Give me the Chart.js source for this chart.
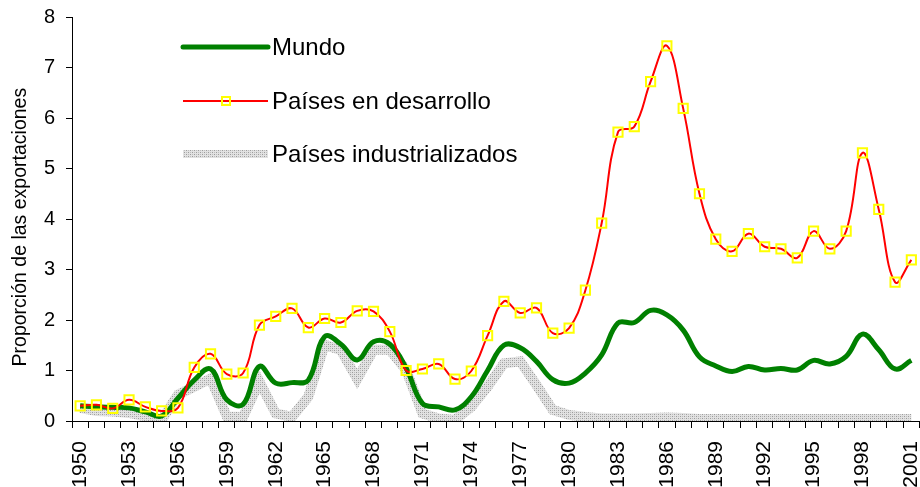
<!DOCTYPE html>
<html>
<head>
<meta charset="utf-8">
<script src="https://cdn.jsdelivr.net/npm/chart.js@4.4.0/dist/chart.umd.min.js"></script>
<style>
  html, body { margin: 0; padding: 0; background: #fff; overflow: hidden; }
  #wrap { width: 928px; height: 487px; }
</style>
</head>
<body>
<div id="wrap"><canvas id="myChart"></canvas></div>
<script>
years = [
  "1950","1951","1952","1953","1954","1955","1956","1957","1958","1959",
  "1960","1961","1962","1963","1964","1965","1966","1967","1968","1969",
  "1970","1971","1972","1973","1974","1975","1976","1977","1978","1979",
  "1980","1981","1982","1983","1984","1985","1986","1987","1988","1989",
  "1990","1991","1992","1993","1994","1995","1996","1997","1998","1999",
  "2000","2001"
]

mundo = [
  0.30, 0.28, 0.27, 0.26, 0.18, 0.10, 0.45, 0.81, 1.03, 0.42,
  0.33, 1.08, 0.75, 0.76, 0.81, 1.67, 1.52, 1.21, 1.57, 1.52,
  1.05, 0.35, 0.28, 0.22, 0.48, 1.00, 1.50, 1.45, 1.18, 0.82,
  0.75, 0.95, 1.31, 1.94, 1.95, 2.19, 2.10, 1.80, 1.27, 1.09,
  0.98, 1.08, 1.01, 1.04, 1.01, 1.20, 1.13, 1.28, 1.72, 1.41,
  1.03, 1.20
]

desarrollo = [
  0.30, 0.32, 0.25, 0.42, 0.28, 0.20, 0.26, 1.06, 1.33, 0.93,
  0.95, 1.90, 2.07, 2.23, 1.85, 2.03, 1.95, 2.18, 2.17, 1.77,
  1.00, 1.03, 1.13, 0.83, 0.99, 1.69, 2.37, 2.14, 2.24, 1.74,
  1.84, 2.59, 3.92, 5.72, 5.83, 6.72, 7.43, 6.19, 4.50, 3.60,
  3.36, 3.71, 3.45, 3.41, 3.23, 3.76, 3.41, 3.76, 5.31, 4.19,
  2.75, 3.19
]

industrializados = [
  0.26, 0.20, 0.19, 0.16, 0.09, 0.02, 0.52, 0.68, 0.84, 0.09,
  0.08, 0.78, 0.15, 0.08, 0.48, 1.51, 1.40, 0.83, 1.41, 1.41,
  1.01, 0.15, 0.05, 0.02, 0.28, 0.68, 1.14, 1.18, 0.71, 0.22,
  0.12, 0.08, 0.05, 0.05, 0.05, 0.06, 0.07, 0.06, 0.04, 0.04,
  0.04, 0.04, 0.04, 0.04, 0.04, 0.04, 0.04, 0.04, 0.04, 0.04,
  0.04, 0.04
]

yTicks = [0, 1, 2, 3, 4, 5, 6, 7, 8]

FONT = '"Liberation Sans", Arial, sans-serif'

// dotted grey fill like the Excel pattern line
function dotPattern() {
  var c = document.createElement('canvas')
  c.width = 4; c.height = 4
  var g = c.getContext('2d')
  g.fillStyle = '#e2e2e2'
  g.fillRect(0, 0, 4, 4)
  g.fillStyle = '#9c9c9c'
  g.fillRect(0, 0, 1, 1); g.fillRect(2, 2, 1, 1)
  g.fillStyle = '#bcbcbc'
  g.fillRect(2, 0, 1, 1); g.fillRect(0, 2, 1, 1)
  return g.createPattern(c, 'repeat')
}

// legend drawn inside the plot, Excel style
var legendBox = {
  id: 'legendBox',
  afterDraw: function(chart) {
    var ctx = chart.ctx
    var rows = [47, 101, 154]
    var x0 = 183, x1 = 268
    ctx.save()
    chart.data.datasets.forEach(function(d, i) {
      var y = rows[i]
      ctx.beginPath()
      ctx.lineWidth = i == 2 ? 8 : d.borderWidth
      ctx.strokeStyle = d.borderColor
      ctx.lineCap = i == 0 ? 'round' : 'butt'
      ctx.moveTo(x0, y)
      ctx.lineTo(x1, y)
      ctx.stroke()
      if (d.pointRadius > 0) {
        ctx.lineWidth = d.pointBorderWidth
        ctx.strokeStyle = d.pointBorderColor
        ctx.strokeRect(222, y - 4, 8, 8)
      }
      ctx.fillStyle = '#000'
      ctx.font = '24px ' + FONT
      ctx.textBaseline = 'middle'
      ctx.textAlign = 'left'
      ctx.fillText(d.label, 272, y + 1)
    })
    ctx.restore()
  }
}

document.addEventListener('DOMContentLoaded', function() {
  var ctx = document.getElementById("myChart").getContext('2d')
  var myChart = new Chart(ctx, {
    type: 'line',
    data: {
      labels: years,
      datasets: [{
        label: 'Mundo',
        data: mundo,
        borderColor: '#008000',
        borderWidth: 5,
        tension: 0.4,
        pointRadius: 0,
        fill: false,
        order: 2
      }, {
        label: 'Países en desarrollo',
        data: desarrollo,
        borderColor: '#ff0000',
        borderWidth: 2,
        tension: 0.4,
        pointStyle: 'rect',
        pointRadius: 6.5,
        pointBorderWidth: 2,
        pointBorderColor: '#ffff00',
        pointBackgroundColor: 'rgba(0,0,0,0)',
        fill: false,
        order: 1
      }, {
        label: 'Países industrializados',
        data: industrializados,
        borderColor: dotPattern(),
        borderWidth: 10,
        tension: 0,
        pointRadius: 0,
        fill: false,
        order: 3
      }]
    },
    options: {
      responsive: true,
      maintainAspectRatio: false,
      animation: false,
      layout: { padding: { top: 0, right: 1, left: 0, bottom: 0 } },
      plugins: {
        legend: { display: false },
        tooltip: { enabled: false }
      },
      scales: {
        x: {
          type: 'category',
          offset: true,
          grid: {
            offset: true,
            drawOnChartArea: false,
            drawTicks: true,
            tickLength: 7,
            color: '#000'
          },
          border: { display: true, color: '#000', width: 1 },
          ticks: {
            autoSkip: false,
            maxRotation: 90,
            minRotation: 90,
            color: '#000',
            padding: 13,
            font: { family: FONT, size: 21 },
            callback: function(v, i) {
              return i % 3 === 0 ? this.getLabelForValue(v) : ''
            }
          },
          afterFit: function(scale) {
            scale.height = 66
            scale.paddingLeft = 0
            scale.paddingRight = 0
          }
        },
        y: {
          min: 0,
          max: 8,
          afterBuildTicks: function(scale) {
            scale.ticks = yTicks.map(function(v) { return { value: v } })
          },
          grid: {
            drawOnChartArea: false,
            drawTicks: true,
            tickLength: 6,
            color: '#000'
          },
          border: { display: true, color: '#000', width: 1 },
          ticks: {
            color: '#000',
            padding: 11,
            font: { family: FONT, size: 20 }
          },
          title: {
            display: true,
            text: 'Proporción de las exportaciones   ',
            color: '#000',
            font: { family: FONT, size: 19.5 },
            padding: { top: 9, bottom: 4 }
          },
          afterFit: function(scale) {
            scale.width = 72
            scale.paddingTop = 17
            scale.paddingBottom = 0
          }
        }
      }
    },
    plugins: [legendBox]
  })
})
</script>
</body>
</html>
